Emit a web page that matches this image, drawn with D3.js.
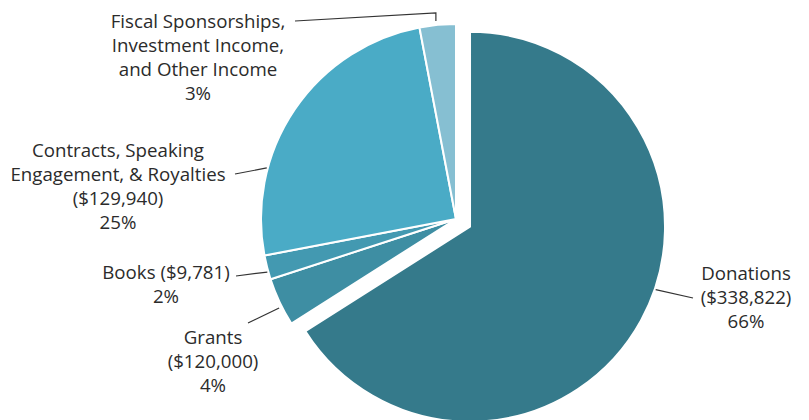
<!DOCTYPE html>
<html>
  <head>
    <meta charset="utf-8">
    <script type="text/javascript" src="https://cdn.jsdelivr.net/npm/d3@7"></script>
    <style>
      html, body { margin: 0; padding: 0; background: #fff; }
      .label { font-family: "Open Sans", sans-serif; font-size: 18.7px; fill: #2b2b2b; }
    </style>
  </head>
  <body>
    <div id="chart"></div>
    <script type="text/javascript">

      // data
      var categories = ["Donations", "Grants", "Books", "Contracts", "Fiscal"];
      var percents   = [66, 4, 2, 25, 3];
      var labelLines = [
        ["Donations", "($338,822)", "66%"],
        ["Grants", "($120,000)", "4%"],
        ["Books ($9,781)", "2%"],
        ["Contracts, Speaking", "Engagement, & Royalties", "($129,940)", "25%"],
        ["Fiscal Sponsorships,", "Investment Income,", "and Other Income", "3%"]
      ];
      var colors = ["#357a8b", "#3e8ea3", "#4399b1", "#4aabc6", "#86bfd2"];

      var WIDTH = 809, HEIGHT = 420,
          CX = 456, CY = 219,
          RADIUS = 195,
          EXPLODE = 16,
          LINE_H = 24;

      // where each label sits and where its leader touches the slice
      // tx,ty: text centre of first line, lx,ly: outer end of leader, ang: leader angle (deg)
      var layout = [
        { tx: 746, ty: 273, lx: 693, ly: 298, ang: 108.7, r: 196 },
        { tx: 213, ty: 337, lx: 248, ly: 323, ang: 243.3, r: 198 },
        { tx: 166, ty: 272, lx: 236, ly: 276, ang: 254.3, r: 196 },
        { tx: 118, ty: 150, lx: 235, ly: 174, ang: 285.1, r: 196 },
        { tx: 198, ty: 21,  lx: 295, ly: 21,  ang: 354.2, r: 199, elbowY: 13 }
      ];

      var svg = d3.select("#chart").append("svg")
        .attr("width", WIDTH).attr("height", HEIGHT);

      var pie = d3.pie().sort(null).value(function(d) { return d; });
      var arcs = pie(percents);
      var arc = d3.arc().innerRadius(0).outerRadius(RADIUS);

      // slice offset, only donations pulled out
      var offset = function(d, i) {
        if(i !== 0) return [0, 0];
        var mid = (d.startAngle + d.endAngle) / 2;
        return [EXPLODE * Math.sin(mid), -EXPLODE * Math.cos(mid)];
      };

      var g = svg.append("g").attr("transform", "translate(" + CX + "," + CY + ")");

      g.selectAll("path").data(arcs).enter().append("path")
        .attr("d", arc)
        .attr("transform", function(d, i) { var o = offset(d, i); return "translate(" + o[0] + "," + o[1] + ")"; })
        .attr("fill", function(d, i) { return colors[i]; })
        .attr("stroke", "#fff")
        .attr("stroke-width", 2)
        .attr("stroke-linejoin", "round");

      // leader lines
      arcs.forEach(function(d, i) {
        var L = layout[i], o = offset(d, i);
        var a = L.ang * Math.PI / 180;
        var px = CX + o[0] + L.r * Math.sin(a),
            py = CY + o[1] - L.r * Math.cos(a);
        var pts = [[L.lx, L.ly]];
        if(L.elbowY !== undefined) pts.push([px, L.elbowY]);
        pts.push([px, py]);
        svg.append("path")
          .attr("d", d3.line()(pts))
          .attr("fill", "none")
          .attr("stroke", "#333")
          .attr("stroke-width", 1.2);
      });

      // labels
      labelLines.forEach(function(lines, i) {
        var L = layout[i];
        var t = svg.append("text").attr("class", "label").attr("text-anchor", "middle");
        lines.forEach(function(s, k) {
          t.append("tspan").attr("x", L.tx).attr("y", L.ty + k * LINE_H)
            .attr("dy", "0.35em").text(s);
        });
      });
    </script>
  </body>
</html>
